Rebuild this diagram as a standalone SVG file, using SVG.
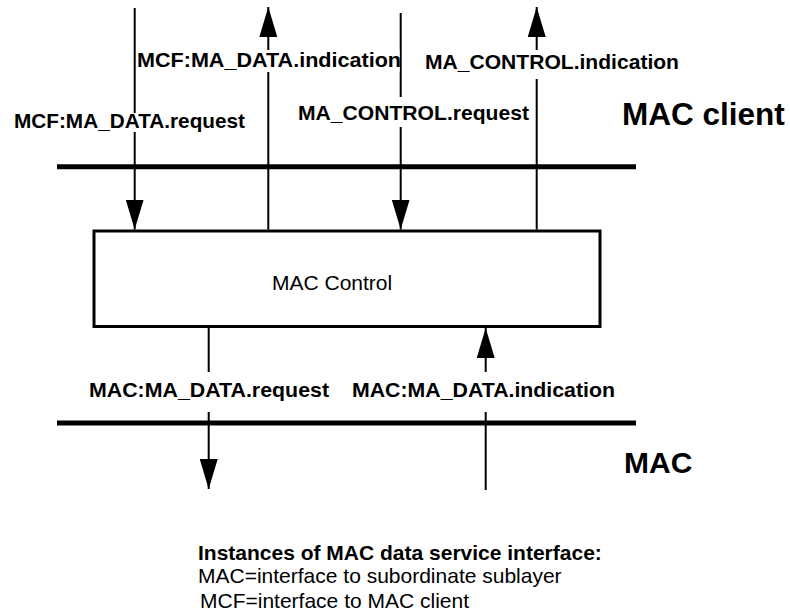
<svg xmlns="http://www.w3.org/2000/svg" width="790" height="612" viewBox="0 0 790 612">
  <style>
    .bar { stroke: #000; stroke-width: 5; fill: none; }
    .conn { stroke: #000; stroke-width: 2; fill: none; }
    .box { stroke: #000; stroke-width: 3; fill: #fff; }
    .bg { fill: #fff; stroke: none; }
    .lbl { font-family: "Liberation Sans", Arial, sans-serif; font-weight: bold; font-size: 21px; fill: #000; }
    .reg { font-family: "Liberation Sans", Arial, sans-serif; font-size: 21px; fill: #000; }
    .big { font-family: "Liberation Sans", Arial, sans-serif; font-weight: bold; fill: #000; }
  </style>
  <defs>
    <marker id="ah" viewBox="0 0 30 18" refX="30" refY="9" markerWidth="30" markerHeight="18" markerUnits="userSpaceOnUse" orient="auto">
      <path d="M0,0 L30,9 L0,18 Z" fill="#000"/>
    </marker>
  </defs>
  <rect width="790" height="612" fill="#fff"/>

  <g id="layer-boundaries">
    <line class="bar" x1="57" y1="166.8" x2="636" y2="166.8"/>
    <line class="bar" x1="57" y1="423" x2="636" y2="423"/>
  </g>

  <g id="connectors">
    <line class="conn" x1="134.7" y1="8" x2="134.7" y2="229.5" marker-end="url(#ah)"/>
    <line class="conn" x1="268.3" y1="229.5" x2="268.3" y2="7" marker-end="url(#ah)"/>
    <line class="conn" x1="400.7" y1="13" x2="400.7" y2="229.5" marker-end="url(#ah)"/>
    <line class="conn" x1="536.7" y1="229.5" x2="536.7" y2="7" marker-end="url(#ah)"/>
    <line class="conn" x1="208.7" y1="327" x2="208.7" y2="489" marker-end="url(#ah)"/>
    <line class="conn" x1="485.7" y1="490" x2="485.7" y2="328" marker-end="url(#ah)"/>
  </g>

  <g id="label-mcf-indication">
    <rect class="bg" x="137" y="50" width="262.5" height="22"/>
    <text class="lbl" x="137" y="66.7" textLength="264" lengthAdjust="spacingAndGlyphs">MCF:MA_DATA.indication</text>
  </g>
  <g id="label-mcf-request">
    <rect class="bg" x="13" y="113" width="233" height="19"/>
    <text class="lbl" x="14" y="128" textLength="231" lengthAdjust="spacingAndGlyphs">MCF:MA_DATA.request</text>
  </g>
  <g id="label-control-indication">
    <rect class="bg" x="424" y="50" width="256" height="29"/>
    <text class="lbl" x="425" y="69.3" textLength="254" lengthAdjust="spacingAndGlyphs">MA_CONTROL.indication</text>
  </g>
  <g id="label-control-request">
    <rect class="bg" x="297" y="97" width="233" height="30"/>
    <text class="lbl" x="298" y="120" textLength="231" lengthAdjust="spacingAndGlyphs">MA_CONTROL.request</text>
  </g>
  <g id="label-mac-request">
    <rect class="bg" x="88" y="372" width="242" height="40"/>
    <text class="lbl" x="89" y="397" textLength="240" lengthAdjust="spacingAndGlyphs">MAC:MA_DATA.request</text>
  </g>
  <g id="label-mac-indication">
    <rect class="bg" x="351" y="372" width="265" height="40"/>
    <text class="lbl" x="352" y="397" textLength="263" lengthAdjust="spacingAndGlyphs">MAC:MA_DATA.indication</text>
  </g>

  <g id="mac-control">
    <rect class="box" x="94" y="231" width="506" height="95.5"/>
    <text class="reg" x="272" y="290">MAC Control</text>
  </g>

  <g id="layer-mac-client">
    <text class="big" x="622" y="125" font-size="31.5">MAC client</text>
  </g>
  <g id="layer-mac">
    <text class="big" x="624" y="473.3" font-size="30">MAC</text>
  </g>

  <g id="legend">
    <text class="lbl" x="198" y="560">Instances of MAC data service interface:</text>
    <text class="reg" x="198" y="583.3">MAC=interface to subordinate sublayer</text>
    <text class="reg" x="200" y="607.5">MCF=interface to MAC client</text>
  </g>
</svg>
